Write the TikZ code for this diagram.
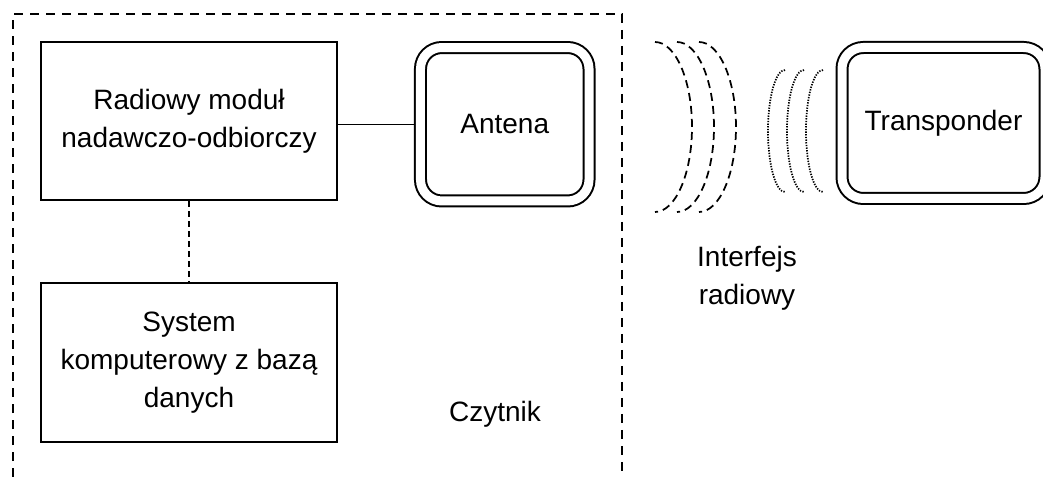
\documentclass[tikz,border=0pt]{standalone}
\usepackage{fontspec}
\setmainfont{Liberation Sans}
\begin{document}
\begin{tikzpicture}[x=0.75pt, y=-0.75pt,
        block/.style={draw, line width=1.6pt, minimum width=222pt, minimum height=119pt, align=center, font=\fontsize{21}{28.5}\selectfont},
        dblbox/.style={draw, line width=1.5pt, double, double distance=6.75pt, rounded corners=16pt, outer sep=4.9pt, font=\fontsize{21}{28.5}\selectfont},
        txt/.style={align=center, font=\fontsize{21}{28.5}\selectfont},
        wave/.style={line width=1.3pt, dash pattern=on 6pt off 3.8pt},
        echo/.style={line width=1.3pt, dash pattern=on 1pt off 1pt}]
            \useasboundingbox (0,0) rectangle (1043,477);
            \draw[line width=1.7pt, dash pattern=on 7pt off 5pt] (13,477) -- (13,14) -- (622,14) -- (622,477);
            \node[block] (radio) at (189,121) {Radiowy moduł\\nadawczo-odbiorczy};
            \node[block] (system) at (189,362.5) {System\\komputerowy z bazą\\danych};
            \node[dblbox, minimum width=126.4pt, minimum height=115.1pt] (antena) at (504.75,124.25) {Antena};
            \node[dblbox, minimum width=152.25pt, minimum height=113.25pt] (tag) at (943.5,123) {Transponder};
            \node[txt] (iface) at (747,278) {Interfejs\\radiowy};
            \node[txt] (reader) at (495,414) {Czytnik};
            \draw[line width=1pt] (antena.west -| radio.east) -- (antena.west);
            \draw[line width=1.3pt, dash pattern=on 4.5pt off 3pt] (radio.south) -- (system.north);
            \draw[wave] (655,42) .. controls +(20.4,0) and +(0,-46.9) .. (692,127) .. controls +(0,46.9) and +(20.4,0) .. (655,212);
            \draw[wave] (677,42) .. controls +(20.4,0) and +(0,-46.9) .. (714,127) .. controls +(0,46.9) and +(20.4,0) .. (677,212);
            \draw[wave] (699,42) .. controls +(20.4,0) and +(0,-46.9) .. (736,127) .. controls +(0,46.9) and +(20.4,0) .. (699,212);
            \draw[echo] (785,70) .. controls +(-9.4,0) and +(0,-33.7) .. (768,131) .. controls +(0,33.7) and +(-9.4,0) .. (785,192);
            \draw[echo] (804,70) .. controls +(-9.4,0) and +(0,-33.7) .. (787,131) .. controls +(0,33.7) and +(-9.4,0) .. (804,192);
            \draw[echo] (823,70) .. controls +(-9.4,0) and +(0,-33.7) .. (806,131) .. controls +(0,33.7) and +(-9.4,0) .. (823,192);
        \end{tikzpicture}
\end{document}
